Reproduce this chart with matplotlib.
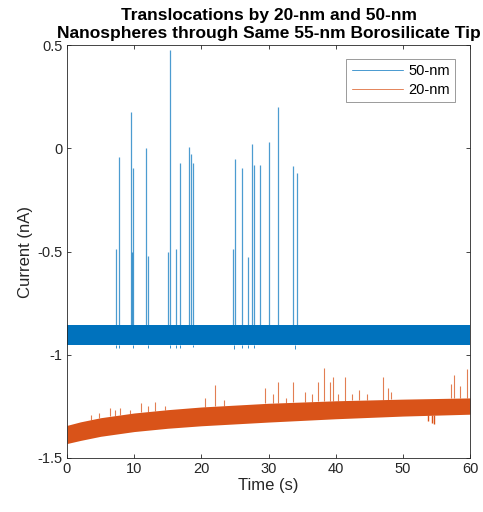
"""Translocation traces for 20-nm and 50-nm nanospheres."""

import matplotlib
matplotlib.use('Agg')
import matplotlib.pyplot as plt

plt.rcParams['font.family'] = ['Liberation Sans', 'DejaVu Sans']

# baseline band of each trace (time in s, current in nA)
band_t = [0, 2, 5, 10, 15, 20, 30, 40, 50, 60]
blue_top = [-0.857, -0.857, -0.857, -0.857, -0.857, -0.857, -0.857, -0.857, -0.857, -0.857]
blue_bot = [-0.952, -0.952, -0.952, -0.952, -0.952, -0.952, -0.952, -0.952, -0.952, -0.952]
orange_top = [-1.342, -1.325, -1.305, -1.282, -1.266, -1.253, -1.235, -1.223, -1.215, -1.209]
orange_bot = [-1.43, -1.415, -1.395, -1.372, -1.356, -1.344, -1.326, -1.31, -1.297, -1.288]

# 50-nm translocation events (upward spikes)
blue_spike_t = [7.3, 7.8, 9.5, 9.7, 9.9, 11.8, 12.1, 15.1, 15.3, 16.2, 16.8, 18.2, 18.5, 18.7,
                24.75, 25.0, 26.0, 27.0, 27.5, 27.9, 28.7, 30.0, 31.4, 33.7, 34.3]
blue_spike_v = [-0.49, -0.04, 0.177, -0.5, -0.096, 0.0, -0.52, -0.5, 0.476, -0.49, -0.07, 0.007, -0.03, -0.07,
                -0.49, -0.05, -0.097, -0.525, 0.02, -0.08, -0.08, 0.03, 0.20, -0.086, -0.12]
# small downward blips at the events
blue_dip_t = [7.3, 7.8, 9.9, 12.1, 15.3, 16.2, 16.8, 18.7, 24.9, 26.0, 27.0, 27.9, 34.0]
blue_dip_v = [-0.968, -0.968, -0.965, -0.968, -0.965, -0.965, -0.965, -0.962, -0.972, -0.965, -0.965, -0.965, -0.97]

# 20-nm translocation events
orange_spike_t = [3.5, 4.8, 5.4, 6.4, 7.1, 7.9, 9.4, 11.0, 12.1, 13.1, 14.6, 20.5, 22.0, 23.3,
                  29.5, 30.7, 31.4, 32.6, 33.6, 35.4, 36.4, 37.4, 38.2, 39.1, 39.6, 40.4,
                  41.4, 42.4, 43.5, 44.6, 47.0, 47.8, 48.3, 57.2, 57.6, 58.5, 59.6]
orange_spike_v = [-1.29, -1.28, -1.30, -1.26, -1.27, -1.26, -1.27, -1.235, -1.25, -1.23, -1.25,
                  -1.21, -1.146, -1.22, -1.16, -1.19, -1.13, -1.21, -1.13, -1.18, -1.19, -1.13,
                  -1.066, -1.13, -1.11, -1.19, -1.11, -1.19, -1.17, -1.19, -1.11, -1.16, -1.18,
                  -1.14, -1.10, -1.15, -1.07]
orange_dip_t = [53.8, 54.3, 54.6]
orange_dip_v = [-1.32, -1.33, -1.335]

x_ticks = [0, 10, 20, 30, 40, 50, 60]
y_ticks = [-1.5, -1, -0.5, 0, 0.5]
y_labels = ['-1.5', '-1', '-0.5', '0', '0.5']

BLUE = '#0072BD'
ORANGE = '#D95319'
INK = '#262626'

fig = plt.figure(figsize=(4.83, 5.12), dpi=100)
ax = fig.add_axes([0.1387, 0.1055, 0.8345, 0.8065])


def base_at(t, ts, tops):
    # edge of the band at time t, taken between the read points
    for i in range(len(ts) - 1):
        if ts[i] <= t <= ts[i + 1]:
            f = (t - ts[i]) / (ts[i + 1] - ts[i])
            return tops[i] + f * (tops[i + 1] - tops[i])
    return tops[-1]


# 50-nm trace
ax.fill_between(band_t, blue_bot, blue_top, color=BLUE, lw=0)
ax.vlines(blue_spike_t, [base_at(t, band_t, blue_top) for t in blue_spike_t], blue_spike_v,
          color=BLUE, lw=0.9, alpha=0.7)
ax.vlines(blue_dip_t, [base_at(t, band_t, blue_bot) for t in blue_dip_t], blue_dip_v,
          color=BLUE, lw=0.7, alpha=0.8)
ax.plot([], [], color=BLUE, lw=0.5, label='50-nm')

# 20-nm trace
ax.fill_between(band_t, orange_bot, orange_top, color=ORANGE, lw=0)
ax.vlines(orange_spike_t, [base_at(t, band_t, orange_top) for t in orange_spike_t], orange_spike_v,
          color=ORANGE, lw=0.8, alpha=0.75)
ax.vlines(orange_dip_t, [base_at(t, band_t, orange_bot) for t in orange_dip_t], orange_dip_v,
          color=ORANGE, lw=1.0)
ax.plot([], [], color=ORANGE, lw=0.5, label='20-nm')

ax.set_xlim(0, 60)
ax.set_ylim(-1.5, 0.5)
ax.set_xticks(x_ticks)
ax.set_yticks(y_ticks)
ax.set_yticklabels(y_labels)
ax.tick_params(direction='in', top=True, right=True, length=3, width=0.6,
               labelsize=10.5, colors=INK, pad=3)
for side in ax.spines.values():
    side.set_linewidth(0.6)
    side.set_color(INK)

ax.set_xlabel('Time (s)', fontsize=12, color=INK, labelpad=1)
ax.set_ylabel('Current (nA)', fontsize=12, color=INK, labelpad=3)
ax.set_title('Translocations by 20-nm and 50-nm\nNanospheres through Same 55-nm Borosilicate Tip',
             fontsize=12.5, fontweight='bold', color='black', pad=5, linespacing=1.3)

leg = ax.legend(loc='upper right', bbox_to_anchor=(0.963, 0.966), fontsize=10.5,
                frameon=True, fancybox=False, edgecolor='#8a8a8a', framealpha=1,
                handlelength=3.5, borderpad=0.35, labelspacing=0.35, handletextpad=0.4,
                borderaxespad=0)
leg.get_frame().set_linewidth(0.6)

fig.savefig('out.png', dpi=100)
